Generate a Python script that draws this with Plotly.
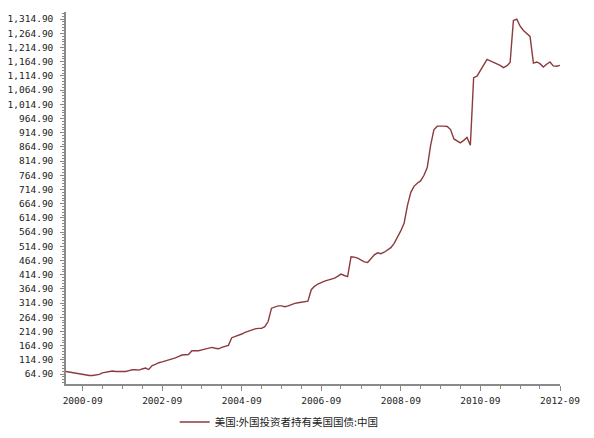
import plotly.graph_objects as go
import pandas as pd

# Monthly holdings (USD bn), 2000-04 .. 2012-09
start_month = "2000-04-01"
values_2000 = [74, 72, 70, 67, 65, 63, 61, 60, 60]
values_2001 = [61, 64, 69, 72, 75, 76, 74, 74, 75, 74, 77, 80]
values_2002 = [80, 79, 83, 86, 81, 95, 99, 105, 108, 111, 114, 118]
values_2003 = [122, 127, 132, 133, 134, 147, 147, 147, 150, 153, 156, 159]
values_2004 = [156, 154, 159, 163, 166, 193, 197, 201, 206, 212, 217, 221]
values_2005 = [224, 226, 226, 232, 250, 297, 301, 305, 305, 302, 305, 310]
values_2006 = [314, 316, 318, 320, 322, 362, 374, 382, 388, 392, 396, 400]
values_2007 = [403, 410, 417, 412, 408, 478, 477, 473, 466, 460, 458, 470]
values_2008 = [485, 492, 489, 494, 502, 510, 525, 545, 570, 597, 660, 705]
values_2009 = [727, 738, 745, 765, 792, 870, 925, 938, 939, 938, 937, 926]
values_2010 = [893, 885, 879, 888, 898, 871, 1109, 1114, 1133, 1153, 1173, 1168]
values_2011 = [1163, 1159, 1152, 1144, 1150, 1162, 1310, 1314.9, 1290, 1275, 1265, 1254]
values_2012 = [1160, 1164, 1158, 1146, 1156, 1164, 1150, 1149, 1152]

values = (values_2000 + values_2001 + values_2002 + values_2003 + values_2004 +
          values_2005 + values_2006 + values_2007 + values_2008 + values_2009 +
          values_2010 + values_2011 + values_2012)
dates = pd.date_range(start_month, periods=len(values), freq="MS")

x_tick_labels = ["2000-09", "2002-09", "2004-09", "2006-09", "2008-09", "2010-09", "2012-09"]
y_tick_values = [64.9 + 50 * i for i in range(26)]
y_tick_labels = [f"{v:,.2f}" for v in y_tick_values]
series_name = "美国:外国投资者持有美国国债:中国"

line_color = "#8B3A3E"
axis_color = "#8a8a8a"
font_mono = "DejaVu Sans Mono"

fig = go.Figure()
fig.add_trace(go.Scatter(
    x=dates, y=values, mode="lines", name=series_name,
    line=dict(color=line_color, width=1.4),
))

# page body has an 8px margin, so the figure is 8px smaller and shifted
fig.update_layout(
    width=586, height=430,
    margin=dict(l=58, r=34, t=4, b=54, autoexpand=False),
    paper_bgcolor="white", plot_bgcolor="white",
    showlegend=True,
    legend=dict(
        orientation="h", x=0.22, y=-0.102, xanchor="left", yanchor="middle",
        font=dict(family="Noto Sans CJK SC", size=10.5, color="#222"),
        bgcolor="rgba(0,0,0,0)", itemwidth=30,
    ),
)

fig.update_xaxes(
    type="date",
    range=["2000-04-01", "2012-09-01"],
    tickvals=[f"{s}-01" for s in x_tick_labels],
    ticktext=x_tick_labels,
    showgrid=False, zeroline=False,
    showline=True, linecolor=axis_color, linewidth=1.5,
    ticks="outside", ticklen=5, tickcolor=axis_color,
    ticklabelstandoff=2, ticklabeloverflow="allow",
    tickfont=dict(family=font_mono, size=9.5, color="#222"),
    minor=dict(dtick="M6", tick0="2000-09-01", ticks="outside", ticklen=3, tickcolor=axis_color),
)

fig.update_yaxes(
    range=[30, 1340],
    tickvals=y_tick_values,
    ticktext=y_tick_labels,
    showgrid=False, zeroline=False,
    showline=True, linecolor=axis_color, linewidth=1.5,
    ticks="outside", ticklen=4, tickcolor=axis_color,
    ticklabelstandoff=5, ticklabeloverflow="allow",
    tickfont=dict(family=font_mono, size=9.5, color="#222"),
    minor=dict(dtick=10, tick0=4.9, ticks="outside", ticklen=2, tickcolor=axis_color),
)

fig.write_html("out.html")
